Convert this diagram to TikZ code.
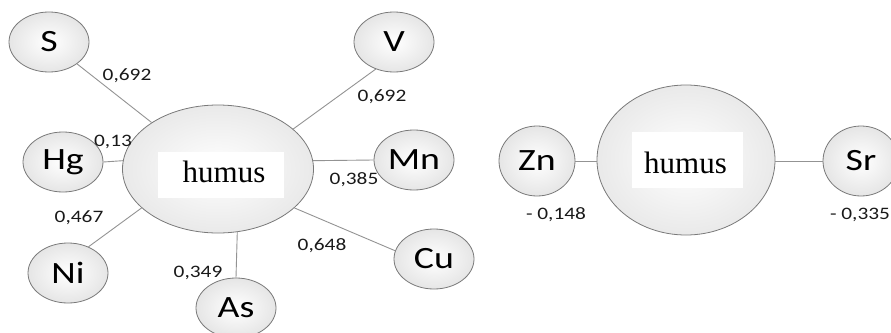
\documentclass[tikz,border=0pt]{standalone}
\usepackage{fontspec}
\setmainfont{Liberation Serif}
\newfontfamily\labfont[FakeStretch=1.22]{Carlito}
\usetikzlibrary{shapes.geometric}
\tikzset{
  elem/.style={ellipse, draw=gray!95!black, line width=0.8pt, inner color=white, outer color=gray!20,
    minimum width=80pt, minimum height=60pt, inner sep=0pt,
    font=\labfont\fontsize{31}{31}\selectfont, text=black},
  hub/.style={ellipse, draw=gray!95!black, line width=0.8pt, inner color=white, outer color=gray!17, inner sep=0pt},
  wbox/.style={fill=white, draw=none, inner sep=0pt},
  hubtext/.style={inner sep=0pt, font=\fontsize{31}{31}\selectfont, text=black},
  wire/.style={draw=gray!85, line width=0.9pt},
  num/.style={inner sep=0pt, font=\labfont\fontsize{17.5}{17.5}\selectfont, text=black!90}
}
\begin{document}
\begin{tikzpicture}[x=1pt,y=-1pt]
\useasboundingbox (0,0) rectangle (891,332);
% left cluster
\node[hub, minimum width=191pt, minimum height=128pt] (humusL) at (218,169) {};
\node[wbox, minimum width=126pt, minimum height=46pt] (boxL) at (221,175) {};
\node[hubtext] (txtL) at (224,171.5) {humus};
\node[elem] (S) at (49,42) {S};
\node[elem] (V) at (394,42) {V};
\node[elem] (Hg) at (63,162) {Hg};
\node[elem] (Mn) at (414,160) {Mn};
\node[elem] (Ni) at (68,273) {Ni};
\node[elem] (As) at (236,308) {As};
\node[elem] (Cu) at (434,259) {Cu};
\draw[wire] (S.322) -- (humusL.145);
\draw[wire] (V.236) -- (humusL.28);
\draw[wire] (Hg.east) -- (humusL.175);
\draw[wire] (Mn.west) -- (humusL.5);
\draw[wire] (Ni.52) -- (humusL.207);
\draw[wire] (As.north) -- (humusL.-73);
\draw[wire] (Cu.168) -- (humusL.-27);
\node[num] (lS) at (127,76) {0,692};
\node[num] (lHg) at (113,142) {0,13};
\node[num] (lV) at (382,97) {0,692};
\node[num] (lMn) at (354,180) {0,385};
\node[num] (lNi) at (79,218) {0,467};
\node[num] (lAs) at (198,273) {0,349};
\node[num] (lCu) at (322,246) {0,648};
% right cluster
\node[hub, minimum width=178pt, minimum height=150pt] (humusR) at (686,160) {};
\node[wbox, minimum width=111pt, minimum height=56pt] (boxR) at (687.5,160) {};
\node[hubtext] (txtR) at (685.5,162.5) {humus};
\node[elem, minimum width=76pt, minimum height=70pt] (Zn) at (537,161) {Zn};
\node[elem, minimum width=76pt, minimum height=70pt] (Sr) at (861,161) {Sr};
\draw[wire] (Zn.east) -- (humusR.west |- Zn.east);
\draw[wire] (Sr.west) -- (humusR.east |- Sr.west);
\node[num] (lZn) at (556,215) {- 0,148};
\node[num] (lSr) at (860,215) {- 0,335};
\end{tikzpicture}
\end{document}
